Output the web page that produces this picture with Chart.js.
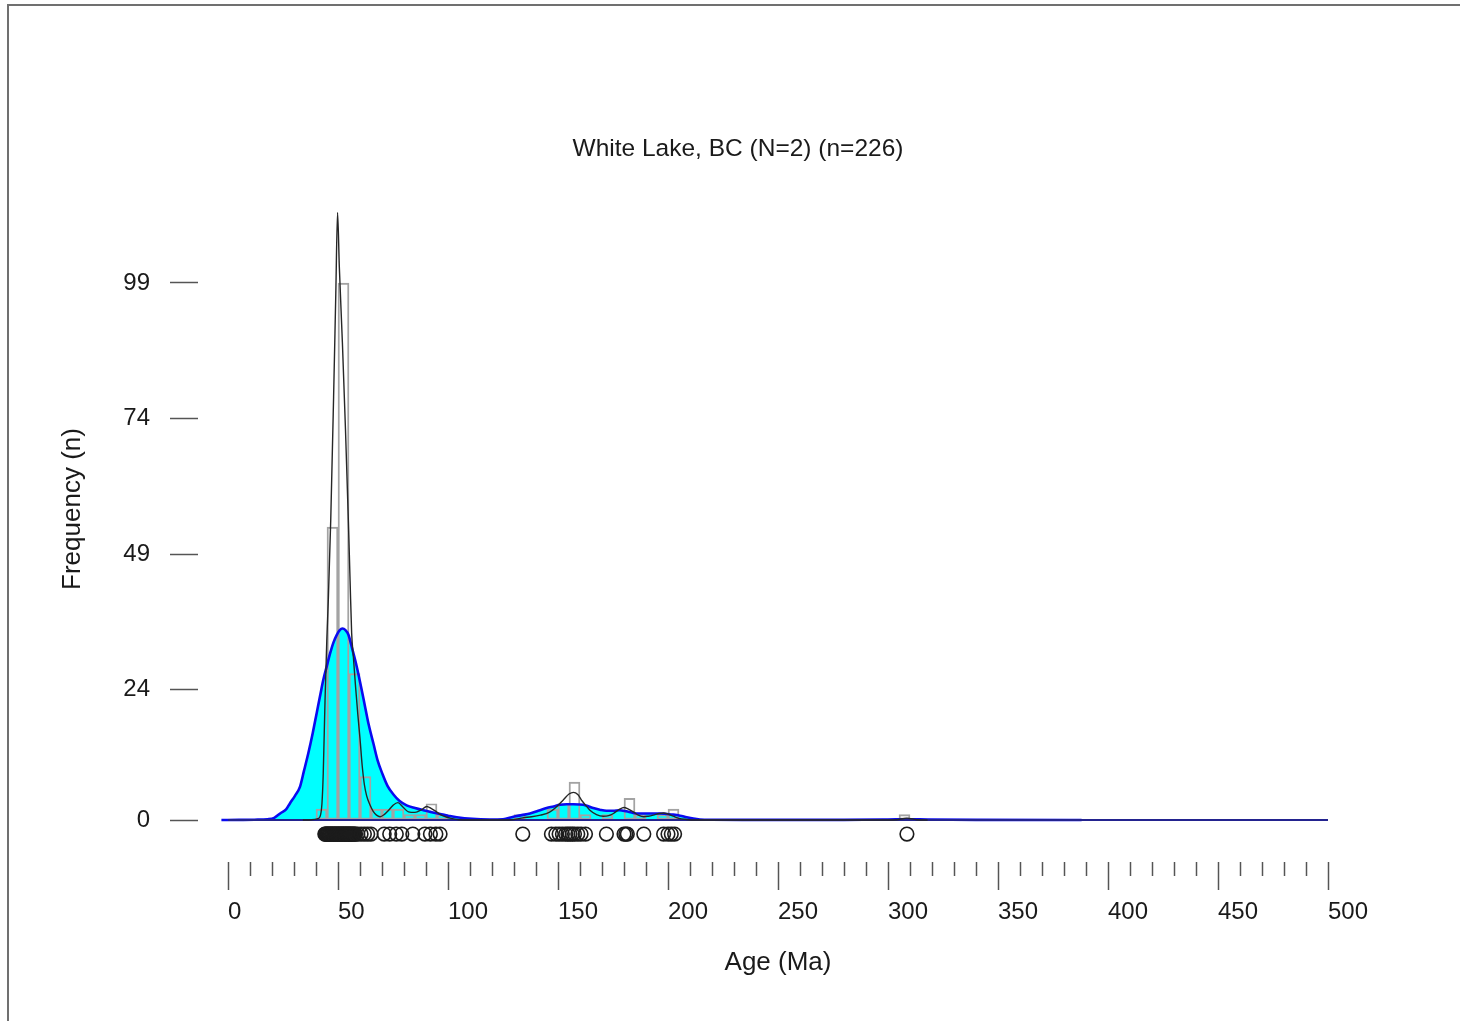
<!DOCTYPE html>
<html>
<head>
<meta charset="utf-8">
<script src="https://cdn.jsdelivr.net/npm/chart.js@4.4.1/dist/chart.umd.min.js"></script>
<style>
html, body { margin: 0; padding: 0; background: #ffffff; }
#wrap { position: relative; width: 1460px; height: 1021px; overflow: hidden; background: #ffffff; }
#c { position: absolute; left: 0; top: 0; }
#frame { position: absolute; left: 7px; top: 4px; width: 1470px; height: 1030px;
  border-top: 2px solid #707070; border-left: 2px solid #707070; pointer-events: none; }
</style>
</head>
<body>
<div id="wrap">
  <canvas id="c" width="1460" height="1021"></canvas>
  <div id="frame"></div>
</div>
<script>
// ---------------- data ----------------
const chartTitle = 'White Lake, BC (N=2) (n=226)';
const xAxisTitle = 'Age (Ma)';
const yAxisTitle = 'Frequency (n)';

const yTickValues = [0, 24, 49, 74, 99];
const xMajorTicks = [0, 50, 100, 150, 200, 250, 300, 350, 400, 450, 500];
const xMinorStep = 10;

// histogram (5 Ma bins): bin centre (Ma) and count
const binCenters = [42.5, 47.5, 52.5, 57.5, 62.5, 67.5, 72.5, 77.5, 82.5, 87.5, 92.5, 97.5,
                    132.5, 147.5, 152.5, 157.5, 162.5, 172.5, 182.5, 187.5, 197.5, 202.5, 307.5];
const binCounts  = [2, 54, 99, 27, 8, 2, 2, 2, 1, 1, 3, 1,
                    1, 2, 3, 7, 1, 1, 4, 1, 1, 2, 1];

// broad density curve (cyan filled, blue outline)
const wideAges = [-3, 5, 12, 18, 21, 24, 26.5, 28.2, 30.5, 32.7, 34.5, 36.5, 38.5, 40.3, 42, 43.3, 45,
  46.4, 48, 49.4, 50.8, 52, 53.4, 54.7, 56.5, 58.5, 60.5, 62.3, 64, 66.1, 68, 70.2, 72.5, 75.2, 78,
  81.2, 85, 88.8, 92, 96.4, 100, 104, 111, 119, 125, 129.7, 133.5, 137.3, 141, 144.8, 148, 150.9,
  154, 157, 161.5, 164, 166, 169, 172, 175, 178, 181, 184.2, 187, 190.3, 193.5, 196.4, 199.5, 202.4,
  205.5, 208.5, 211.5, 214.5, 220, 240, 280, 300, 309, 318, 340, 388];
const wideFreq = [0, 0.02, 0.05, 0.15, 0.4, 1.3, 2.0, 3.1, 4.5, 6.1, 9.0, 12.3, 16.0, 19.7, 23.2, 25.8, 28.5,
  30.7, 32.8, 34.1, 35.0, 35.3, 35.0, 34.2, 31.5, 28.3, 24.5, 20.9, 17.5, 14.1, 11.0, 8.5, 6.3, 4.7, 3.5,
  2.7, 2.2, 1.8, 1.5, 1.1, 0.8, 0.5, 0.2, 0.1, 0.15, 0.6, 0.9, 1.2, 1.7, 2.2, 2.5, 2.8,
  2.9, 2.9, 2.8, 2.5, 2.2, 1.9, 1.7, 1.7, 1.8, 1.6, 1.3, 1.2, 1.2, 1.2, 1.2, 1.1, 1.0,
  0.8, 0.5, 0.25, 0.1, 0.04, 0.02, 0.03, 0.1, 0.15, 0.1, 0.03, 0];

// narrow density curve (thin black line)
const narrowAges = [34, 38, 40.5, 41.8, 42.7, 43.3, 44.1, 44.9, 45.6, 46.7, 48, 49, 49.8, 50.6, 52, 53.4,
  54.7, 55.5, 56.2, 57, 58, 59, 60, 61, 62, 63, 64.5, 66, 67.5, 69.1, 71, 73, 75, 77.2, 79.5, 82, 85, 88,
  90.3, 92.5, 94.8, 97, 99.5, 101.5, 105, 110, 125, 130, 134, 138, 142, 146, 149, 152.4, 155, 157, 159,
  161, 162.8, 164.5, 167.5, 170.6, 173, 175.2, 178, 180, 182, 184.2, 186.5, 189, 191, 193.3, 196, 198,
  200, 202.4, 205, 208.5, 212, 300, 304, 308.6, 313, 318];
const narrowFreq = [0, 0.05, 0.2, 0.6, 3, 8.6, 22, 33, 40.6, 55.3, 78, 97, 112, 102, 88, 72,
  55.3, 44, 34.5, 30, 24.5, 19.5, 15, 10, 6.5, 4.5, 2.8, 1.6, 0.9, 0.6, 1.0, 1.8, 2.7, 3.2, 2.4, 1.5, 1.4, 1.9,
  2.5, 2.1, 1.5, 0.9, 0.5, 0.3, 0.05, 0, 0, 0.1, 0.4, 0.6, 0.9, 1.4, 2.3, 3.7, 4.8, 5.1, 4.7,
  3.5, 2.6, 1.8, 1.0, 0.7, 0.8, 1.2, 2.0, 2.3, 2.0, 1.5, 0.9, 0.6, 0.7, 0.9, 1.2, 1.3,
  1.1, 0.7, 0.3, 0.1, 0, 0, 0.05, 0.35, 0.05, 0];

// individual sample ages (circles under the curves)
const sampleAges = [44, 44.3, 44.6, 45, 45.3, 45.6, 46, 46.3, 46.6, 47, 47.3, 47.6, 48, 48.3, 48.6,
  49, 49.3, 49.6, 50, 50.3, 50.6, 51, 51.3, 51.6, 52, 52.3, 52.6, 53, 53.3, 53.6, 54, 54.3, 54.6,
  55, 55.3, 55.6, 56, 56.4, 56.8, 57.2, 57.6, 58, 59, 60.5, 62, 63.5, 65,
  71, 73.5, 76.5, 79, 84, 89.5, 92, 94.5, 96.4,
  134, 147, 149, 150.5, 152, 153.5, 154.5, 155.5, 156.5, 157.5, 159, 160.5, 162.5, 172,
  180, 180.8, 181.5, 189, 198, 200, 201.5, 203, 308.6];

const axisRange = { xMin: 0, xMax: 500 };
const baselineAges = [axisRange.xMin, axisRange.xMax];

// ---------------- chart ----------------
const Y_PER_PX = 99 / 537;               // frequency units per pixel
const Y_MIN = -42 * Y_PER_PX;
const Y_MAX = 664 * Y_PER_PX;
const SAMPLE_ROW = -2.6;                  // frequency level where sample circles sit

const pairs = (xs, ys) => xs.map((x, i) => ({ x: x, y: ys[i] }));

Chart.defaults.font.family = '"Liberation Sans", Arial, Helvetica, sans-serif';
Chart.defaults.color = '#1a1a1a';

const xTicksAll = [];
for (let v = axisRange.xMin; v <= axisRange.xMax; v += xMinorStep) xTicksAll.push(v);

new Chart(document.getElementById('c'), {
  type: 'bar',
  data: {
    datasets: [
      {
        type: 'line', label: 'samples', order: 1,
        data: sampleAges.map(a => ({ x: a, y: SAMPLE_ROW })),
        showLine: false, pointRadius: 6.8, pointHoverRadius: 6.8,
        pointBorderWidth: 1.6, pointBorderColor: '#1c1c1c',
        pointBackgroundColor: 'rgba(0,0,0,0)', clip: false
      },
      {
        type: 'line', label: 'narrow', order: 2,
        data: pairs(narrowAges, narrowFreq),
        borderColor: '#262626', borderWidth: 1.4, pointRadius: 0,
        cubicInterpolationMode: 'monotone', fill: false, clip: false
      },
      {
        type: 'line', label: 'baseline', order: 3,
        data: baselineAges.map(a => ({ x: a, y: 0 })),
        borderColor: '#23238f', borderWidth: 2.2, pointRadius: 0, fill: false, clip: false
      },
      {
        type: 'line', label: 'wideLine', order: 4,
        data: pairs(wideAges, wideFreq),
        borderColor: '#0a0af0', borderWidth: 2.6, pointRadius: 0,
        cubicInterpolationMode: 'monotone', fill: false, clip: false
      },
      {
        type: 'bar', label: 'hist', order: 5,
        data: pairs(binCenters, binCounts),
        backgroundColor: 'rgba(0,0,0,0)', borderColor: '#a3a3a3', borderWidth: 1.3,
        borderSkipped: false, barPercentage: 1, categoryPercentage: 1
      },
      {
        type: 'line', label: 'wideFill', order: 6,
        data: pairs(wideAges, wideFreq),
        borderWidth: 0, borderColor: 'rgba(0,0,0,0)', pointRadius: 0,
        cubicInterpolationMode: 'monotone', fill: 'origin', backgroundColor: '#00ffff'
      }
    ]
  },
  options: {
    responsive: false,
    animation: false,
    devicePixelRatio: 1,
    layout: { padding: { left: 16, right: 0, top: 0, bottom: 0 } },
    plugins: {
      legend: { display: false },
      tooltip: { enabled: false },
      title: {
        display: true, text: chartTitle, color: '#1a1a1a',
        font: { size: 24.5, weight: 'normal' },
        padding: { top: 134.3, bottom: -7.7 }
      }
    },
    scales: {
      x: {
        type: 'linear', position: 'bottom', min: axisRange.xMin, max: axisRange.xMax,
        offset: false,
        border: { display: false },
        grid: {
          drawOnChartArea: false, offset: false, tickLength: 28, tickWidth: 1.5, tickColor: '#555555',
          tickBorderDash: (ctx) => (ctx.tick && xMajorTicks.includes(ctx.tick.value)) ? [] : [14, 100]
        },
        afterBuildTicks: (s) => { s.ticks = xTicksAll.map(v => ({ value: v })); },
        ticks: {
          autoSkip: false, maxRotation: 0, minRotation: 0, align: 'start', padding: 8,
          font: { size: 24 }, color: '#1a1a1a',
          callback: (v) => xMajorTicks.includes(v) ? String(v) : ''
        },
        title: {
          display: true, text: xAxisTitle, color: '#1a1a1a', font: { size: 26 },
          padding: { top: 0, bottom: 42.4 }
        },
        afterFit: (s) => { s.height = 159; }
      },
      y: {
        type: 'linear', position: 'left', min: Y_MIN, max: Y_MAX,
        border: { display: false },
        grid: {
          drawOnChartArea: false, tickLength: 58, tickWidth: 1.5, tickColor: '#555555',
          tickBorderDash: [28, 100]
        },
        afterBuildTicks: (s) => { s.ticks = yTickValues.map(v => ({ value: v })); },
        ticks: { padding: 20, font: { size: 24 }, color: '#1a1a1a' },
        title: {
          display: true, text: yAxisTitle, color: '#1a1a1a', font: { size: 26 },
          padding: { top: 41.4, bottom: 0 }
        },
        afterFit: (s) => { s.width = 212; }
      },
      yRight: {
        type: 'linear', position: 'right', display: true,
        border: { display: false }, grid: { display: false }, ticks: { display: false },
        afterFit: (s) => { s.width = 132; }
      }
    }
  }
});
</script>
</body>
</html>
